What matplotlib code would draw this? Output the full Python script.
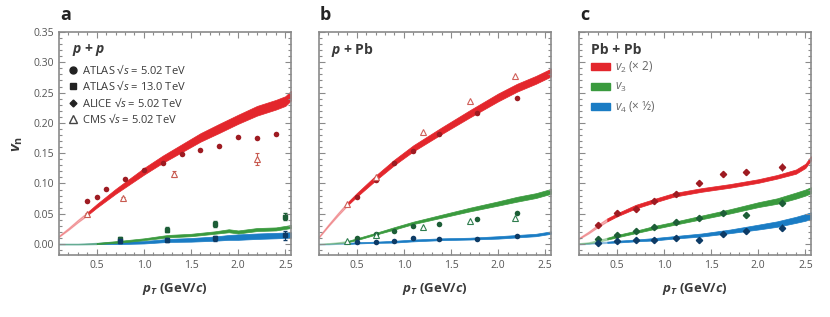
import numpy as np
import matplotlib
matplotlib.use("Agg")
import matplotlib.pyplot as plt
from matplotlib.lines import Line2D
from matplotlib.patches import Patch
from matplotlib.ticker import MultipleLocator

plt.rcParams['font.family'] = ['Open Sans', 'DejaVu Sans']
plt.rcParams['mathtext.fontset'] = 'custom'
plt.rcParams['mathtext.rm'] = 'Open Sans'
plt.rcParams['mathtext.it'] = 'Open Sans:italic'
plt.rcParams['mathtext.bf'] = 'Open Sans:bold'
plt.rcParams['mathtext.bfit'] = 'Open Sans:bold:italic'

# ---- panel a : p+p ----
a_th_x = [0.1, 0.2, 0.3, 0.4, 0.5, 0.6, 0.7, 0.8, 0.9, 1.0, 1.2, 1.4, 1.6, 1.8, 2.0, 2.2, 2.4, 2.5, 2.56]
a_v2 = [0.013, 0.025, 0.038, 0.050, 0.063, 0.075, 0.087, 0.098, 0.109, 0.120, 0.140, 0.158, 0.176, 0.191, 0.206, 0.220, 0.230, 0.236, 0.245]
a_v2_w = [0.002, 0.003, 0.004, 0.005, 0.006, 0.007, 0.008, 0.009, 0.010, 0.011, 0.012, 0.013, 0.014, 0.015, 0.015, 0.016, 0.016, 0.016, 0.016]
a_th_x2 = [0.1, 0.3, 0.5, 0.75, 1.0, 1.25, 1.5, 1.75, 1.9, 2.0, 2.2, 2.4, 2.56]
a_v3 = [0.0, 0.0, 0.001, 0.004, 0.008, 0.013, 0.015, 0.019, 0.022, 0.020, 0.024, 0.025, 0.029]
a_v3_w = [0.001, 0.001, 0.002, 0.003, 0.003, 0.004, 0.004, 0.004, 0.005, 0.005, 0.005, 0.005, 0.005]
a_v4 = [0.0, 0.0, 0.001, 0.002, 0.003, 0.006, 0.007, 0.009, 0.011, 0.0115, 0.013, 0.014, 0.015]
a_v4_w = [0.001, 0.001, 0.002, 0.004, 0.004, 0.005, 0.006, 0.007, 0.008, 0.009, 0.009, 0.009, 0.009]

atlas502_pt = [0.4, 0.5, 0.6, 0.8, 1.0, 1.2, 1.4, 1.6, 1.8, 2.0, 2.2, 2.4]
atlas502_v2 = [0.0716, 0.078, 0.0915, 0.108, 0.1225, 0.134, 0.148, 0.155, 0.162, 0.177, 0.175, 0.182]
cms_pp_pt = [0.4, 0.78, 1.32, 2.2]
cms_pp_v2 = [0.0496, 0.0755, 0.1157, 0.140]
cms_pp_err = [0.002, 0.003, 0.005, 0.010]
atlas13_pt = [0.75, 1.25, 1.75, 2.5]
atlas13_v3 = [0.0088, 0.024, 0.033, 0.045]
atlas13_v3_err = [0.003, 0.004, 0.005, 0.006]
atlas13_v4 = [0.0055, 0.0066, 0.0099, 0.0143]
atlas13_v4_err = [0.003, 0.003, 0.004, 0.008]

# ---- panel b : p+Pb ----
b_th_x = [0.1, 0.2, 0.3, 0.4, 0.5, 0.7, 0.9, 1.1, 1.4, 1.7, 2.0, 2.2, 2.4, 2.56]
b_v2 = [0.012, 0.031, 0.049, 0.066, 0.081, 0.109, 0.135, 0.158, 0.187, 0.215, 0.242, 0.258, 0.271, 0.283]
b_v2_w = [0.002, 0.003, 0.004, 0.005, 0.006, 0.008, 0.009, 0.010, 0.011, 0.012, 0.013, 0.013, 0.013, 0.013]
b_v3 = [0.0, 0.001, 0.002, 0.004, 0.008, 0.017, 0.026, 0.035, 0.046, 0.057, 0.067, 0.074, 0.080, 0.087]
b_v3_w = [0.001, 0.001, 0.002, 0.002, 0.003, 0.003, 0.004, 0.004, 0.005, 0.006, 0.007, 0.008, 0.008, 0.008]
b_v4 = [0.0, 0.0, 0.001, 0.001, 0.002, 0.003, 0.004, 0.006, 0.008, 0.009, 0.011, 0.013, 0.015, 0.019]
b_v4_w = [0.001, 0.001, 0.001, 0.002, 0.002, 0.002, 0.003, 0.003, 0.003, 0.003, 0.004, 0.004, 0.004, 0.004]

atlas_pb_pt = [0.5, 0.7, 0.9, 1.1, 1.375, 1.775, 2.2]
atlas_pb_v2 = [0.078, 0.106, 0.134, 0.153, 0.182, 0.216, 0.241]
atlas_pb_v3 = [0.0099, 0.0165, 0.022, 0.0298, 0.033, 0.042, 0.0507]
atlas_pb_v4 = [0.0033, 0.0033, 0.0055, 0.0099, 0.0077, 0.0088, 0.0132]
cms_pb_pt = [0.4, 0.7, 1.2, 1.7, 2.18]
cms_pb_v2 = [0.066, 0.111, 0.185, 0.236, 0.277]
cms_pb_v3 = [0.0055, 0.015, 0.0287, 0.0375, 0.043]

# ---- panel c : Pb+Pb ----
c_th_x = [0.1, 0.2, 0.3, 0.4, 0.5, 0.7, 0.9, 1.1, 1.4, 1.7, 2.0, 2.2, 2.4, 2.5, 2.56]
c_v2 = [0.0094, 0.019, 0.030, 0.040, 0.048, 0.0617, 0.0716, 0.081, 0.0893, 0.096, 0.104, 0.111, 0.1196, 0.129, 0.1417]
c_v2_w = [0.002, 0.003, 0.004, 0.005, 0.005, 0.006, 0.006, 0.006, 0.006, 0.006, 0.006, 0.006, 0.007, 0.007, 0.007]
c_v3 = [0.001, 0.002, 0.005, 0.009, 0.013, 0.020, 0.0275, 0.034, 0.044, 0.054, 0.065, 0.071, 0.080, 0.085, 0.089]
c_v3_w = [0.001, 0.002, 0.003, 0.003, 0.004, 0.004, 0.005, 0.005, 0.006, 0.007, 0.008, 0.009, 0.010, 0.010, 0.010]
c_v4 = [0.0, 0.001, 0.002, 0.003, 0.004, 0.006, 0.008, 0.011, 0.015, 0.021, 0.028, 0.033, 0.040, 0.044, 0.047]
c_v4_w = [0.001, 0.001, 0.002, 0.002, 0.003, 0.003, 0.004, 0.004, 0.005, 0.006, 0.008, 0.009, 0.010, 0.011, 0.011]

alice_pt = [0.3, 0.5, 0.7, 0.9, 1.125, 1.375, 1.625, 1.875, 2.25]
alice_v2 = [0.0314, 0.0518, 0.0573, 0.0711, 0.0827, 0.100, 0.115, 0.1185, 0.127]
alice_v3 = [0.0077, 0.0149, 0.0215, 0.0287, 0.0358, 0.0435, 0.052, 0.0485, 0.0683]
alice_v4 = [0.0022, 0.0044, 0.006, 0.0072, 0.0105, 0.0072, 0.017, 0.022, 0.027]
alice_err = [0.003, 0.003, 0.003, 0.003, 0.003, 0.004, 0.004, 0.004, 0.006]

RED = '#e3262c'
GREEN = '#3a9a3e'
BLUE = '#1a7cc4'
DRED = '#9e1b22'
DGREEN = '#1d5e37'
DBLUE = '#0d3b66'
TXT = '#3a3a3a'
GRAY = '#8a8a8a'


def band(ax, x, y, w, color):
	x = np.array(x)
	y = np.array(y)
	w = np.array(w)
	strong = x >= 0.4
	first = np.argmax(strong)
	faint = np.arange(len(x)) <= first
	ax.fill_between(x[faint], y[faint] - w[faint] / 2, y[faint] + w[faint] / 2,
					color=color, alpha=0.35, lw=0.8, edgecolor=color)
	ax.fill_between(x[strong], y[strong] - w[strong] / 2, y[strong] + w[strong] / 2,
					color=color, lw=0.5, edgecolor=color)


def style_axes(ax, first):
	ax.set_xlim(0.1, 2.56)
	ax.set_ylim(-0.018, 0.35)
	ax.xaxis.set_major_locator(MultipleLocator(0.5))
	ax.xaxis.set_minor_locator(MultipleLocator(0.1))
	ax.yaxis.set_major_locator(MultipleLocator(0.05))
	ax.yaxis.set_minor_locator(MultipleLocator(0.01))
	ax.tick_params(which='both', direction='in', top=True, right=True, colors=GRAY,
				   labelcolor='#555555', labelsize=7.5, width=0.8)
	ax.tick_params(which='major', length=4)
	ax.tick_params(which='minor', length=2)
	ax.set_xticks([0.5, 1.0, 1.5, 2.0, 2.5])
	ax.set_xticklabels(['0.5', '1.0', '1.5', '2.0', '2.5'])
	for s in ax.spines.values():
		s.set_color(GRAY)
		s.set_linewidth(1.2)
	if first:
		ax.yaxis.set_major_formatter(matplotlib.ticker.FormatStrFormatter('%.2f'))
		ax.set_ylabel(r'$\mathbfit{v}_\mathbf{n}$', fontsize=11, color=TXT, labelpad=6)
	else:
		ax.set_yticklabels([])
	ax.set_xlabel(r'$\mathbfit{p}_{\mathbfit{T}}$ (GeV/$\mathbfit{c}$)', fontweight='bold',
				  fontsize=9.5, color=TXT, labelpad=7)


fig = plt.figure(figsize=(8.3, 3.17), dpi=100)
axa = fig.add_axes([0.0711, 0.1956, 0.2795, 0.7035])
axb = fig.add_axes([0.3843, 0.1956, 0.2795, 0.7035])
axc = fig.add_axes([0.6976, 0.1956, 0.2795, 0.7035])

# panel a
band(axa, a_th_x2, a_v4, a_v4_w, BLUE)
band(axa, a_th_x2, a_v3, a_v3_w, GREEN)
band(axa, a_th_x, a_v2, a_v2_w, RED)
axa.plot(atlas502_pt, atlas502_v2, 'o', color=DRED, ms=4, mec='none')
axa.errorbar(cms_pp_pt, cms_pp_v2, yerr=cms_pp_err, fmt='^', color='#c85a50', mfc='white',
			 ms=4.5, mew=0.8, elinewidth=0.8, capsize=1.5)
axa.errorbar(atlas13_pt, atlas13_v3, yerr=atlas13_v3_err, fmt='s', color=DGREEN, ms=3.5,
			 elinewidth=0.8, capsize=1.5)
axa.errorbar(atlas13_pt, atlas13_v4, yerr=atlas13_v4_err, fmt='s', color=DBLUE, ms=3.5,
			 elinewidth=0.8, capsize=1.5)
style_axes(axa, True)
axa.text(0.056, 0.919, r'$\mathbfit{p}$ + $\mathbfit{p}$', transform=axa.transAxes,
		 fontsize=10, fontweight='bold', color=TXT, va='center')
handles_a = [Line2D([], [], ls='none', marker='o', color='#222222', ms=5),
			 Line2D([], [], ls='none', marker='s', color='#222222', ms=4.5),
			 Line2D([], [], ls='none', marker='D', color='#222222', ms=3.5),
			 Line2D([], [], ls='none', marker='^', color='#444444', mfc='white', ms=5.5)]
labels_a = ['ATLAS √$s$ = 5.02 TeV', 'ATLAS √$s$ = 13.0 TeV',
			'ALICE √$s$ = 5.02 TeV', 'CMS √$s$ = 5.02 TeV']
leg = axa.legend(handles_a, labels_a, loc='upper left', bbox_to_anchor=(0.035, 0.86),
				 frameon=False, fontsize=8, handlelength=1, handletextpad=0.3,
				 labelspacing=0.3, borderpad=0, borderaxespad=0)
for t in leg.get_texts():
	t.set_color(TXT)

# panel b
band(axb, b_th_x, b_v4, b_v4_w, BLUE)
band(axb, b_th_x, b_v3, b_v3_w, GREEN)
band(axb, b_th_x, b_v2, b_v2_w, RED)
axb.plot(atlas_pb_pt, atlas_pb_v2, 'o', color=DRED, ms=4, mec='none')
axb.plot(atlas_pb_pt, atlas_pb_v3, 'o', color=DGREEN, ms=4, mec='none')
axb.plot(atlas_pb_pt, atlas_pb_v4, 'o', color=DBLUE, ms=4, mec='none')
axb.plot(cms_pb_pt, cms_pb_v2, '^', color='#d0605a', mfc='white', ms=4.5, mew=0.8)
axb.plot(cms_pb_pt, cms_pb_v3, '^', color='#2f7d4e', mfc='white', ms=4.5, mew=0.8)
style_axes(axb, False)
axb.text(0.052, 0.919, r'$\mathbfit{p}$ + Pb', transform=axb.transAxes,
		 fontsize=10, fontweight='bold', color=TXT, va='center')

# panel c
band(axc, c_th_x, c_v4, c_v4_w, BLUE)
band(axc, c_th_x, c_v3, c_v3_w, GREEN)
band(axc, c_th_x, c_v2, c_v2_w, RED)
axc.errorbar(alice_pt, alice_v2, yerr=alice_err, fmt='D', color=DRED, ms=3.2, elinewidth=0.8)
axc.errorbar(alice_pt, alice_v3, yerr=alice_err, fmt='D', color=DGREEN, ms=3.2, elinewidth=0.8)
axc.errorbar(alice_pt, alice_v4, yerr=alice_err, fmt='D', color=DBLUE, ms=3.2, elinewidth=0.8)
style_axes(axc, False)
axc.text(0.052, 0.919, 'Pb + Pb', transform=axc.transAxes,
		 fontsize=10, fontweight='bold', color=TXT, va='center')
handles_c = [Patch(color=RED), Patch(color=GREEN), Patch(color=BLUE)]
labels_c = [r'$v_2$ (× 2)', r'$v_3$', r'$v_4$ (× ½)']
leg = axc.legend(handles_c, labels_c, loc='upper left', bbox_to_anchor=(0.052, 0.875),
				 frameon=False, fontsize=8.5, handlelength=1.6, handleheight=0.55,
				 handletextpad=0.4, labelspacing=0.45, borderpad=0, borderaxespad=0)
for t in leg.get_texts():
	t.set_color('#666666')

for lab, ax in zip(['a', 'b', 'c'], [axa, axb, axc]):
	pos = ax.get_position()
	fig.text(pos.x0 + 0.001, 0.937, lab, fontsize=13, fontweight='bold', color='#222222',
			 va='baseline', ha='left')

fig.savefig('out.png', dpi=100)
